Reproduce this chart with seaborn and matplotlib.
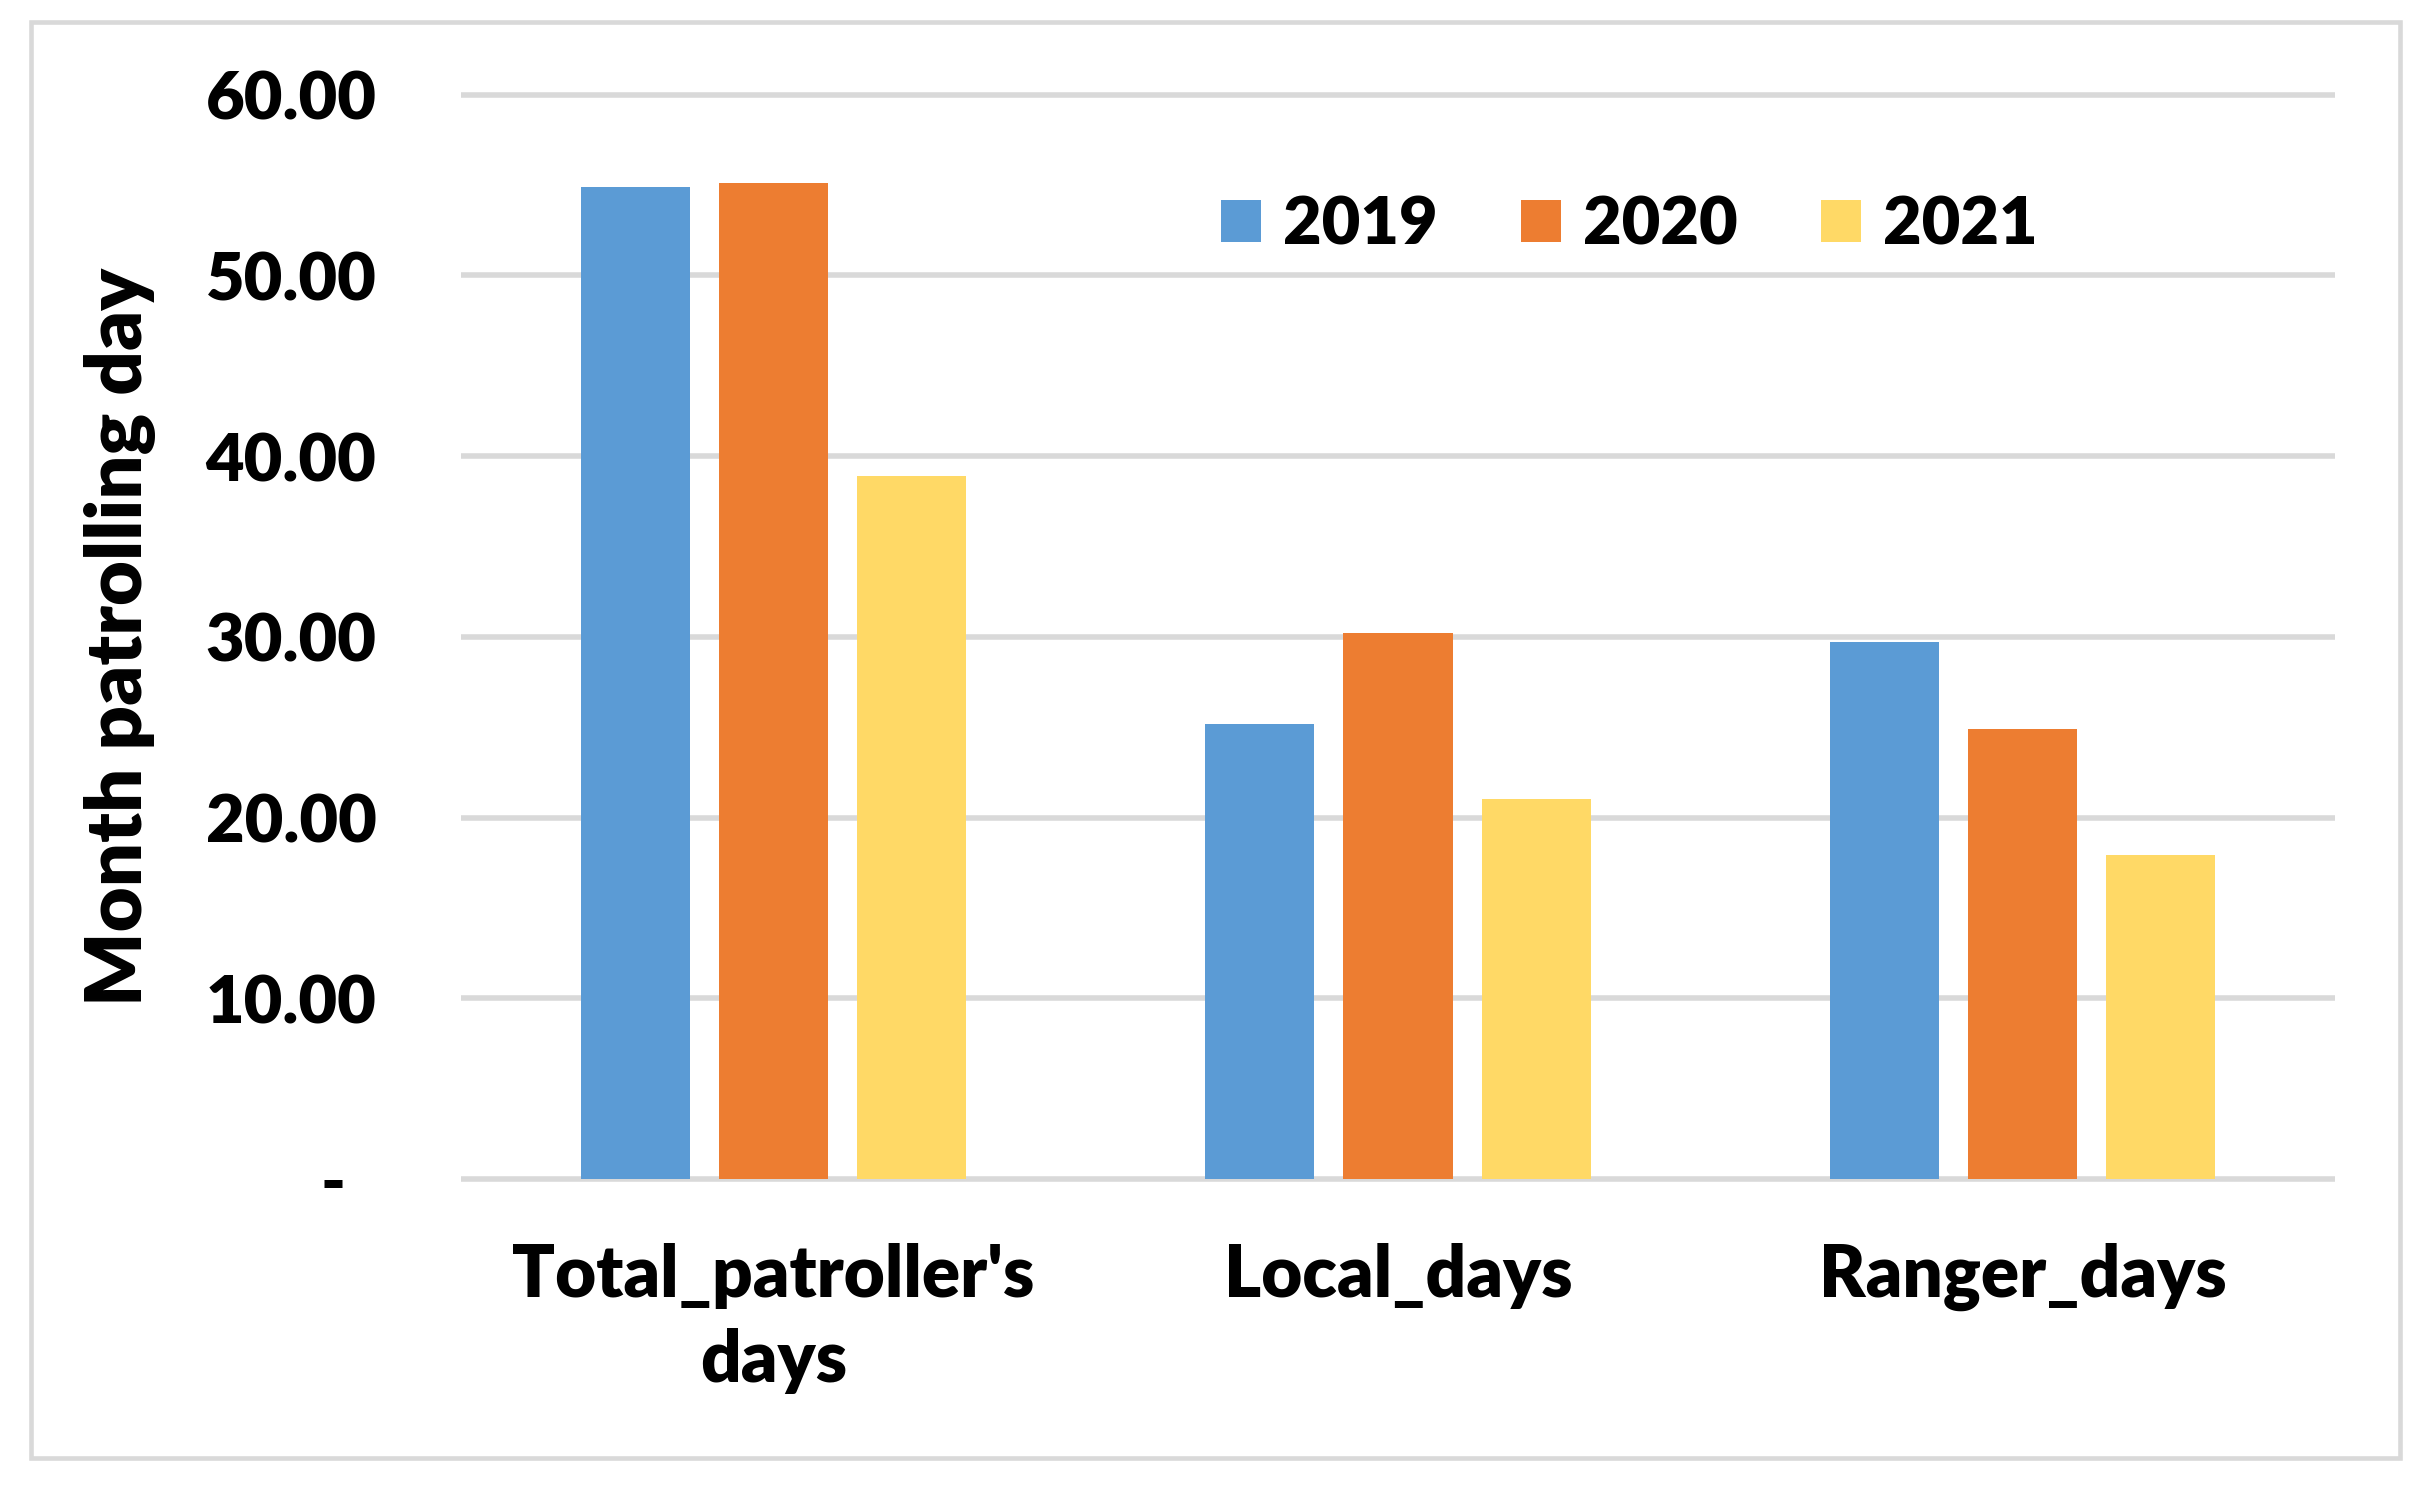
import pandas as pd
import matplotlib
matplotlib.use("Agg")
import matplotlib.pyplot as plt
import seaborn as sns
from matplotlib.patches import Rectangle

# Chart data
categories = ["Total_patroller's\ndays", "Local_days", "Ranger_days"]
years = ["2019", "2020", "2021"]
vals_2019 = [54.9, 25.2, 29.7]
vals_2020 = [55.1, 30.2, 24.9]
vals_2021 = [38.9, 21.0, 17.9]
colors = ["#5B9BD5", "#ED7D31", "#FFD966"]
y_ticks = [0, 10, 20, 30, 40, 50, 60]
y_tick_labels = ["-  ", "10.00", "20.00", "30.00", "40.00", "50.00", "60.00"]

# Long format for seaborn
df = pd.DataFrame({
    "category": categories * 3,
    "year": [y for y in years for _ in categories],
    "value": vals_2019 + vals_2020 + vals_2021,
})

sns.set_theme(style="white")
plt.rcParams["font.family"] = ["Lato", "DejaVu Sans"]
plt.rcParams["font.weight"] = "heavy"
plt.rcParams["text.color"] = "black"
plt.rcParams["axes.labelcolor"] = "black"
plt.rcParams["xtick.color"] = "black"
plt.rcParams["ytick.color"] = "black"

fig = plt.figure(figsize=(24.36, 14.92), dpi=100)
ax = fig.add_axes([0.1893, 0.2062, 0.9585 - 0.1893, 0.9401 - 0.2062])

sns.barplot(data=df, x="category", y="value", hue="year",
            order=categories, hue_order=years, palette=colors,
            saturation=1, errorbar=None, width=0.664, gap=0.21,
            linewidth=0, ax=ax)

ax.set_xlim(-0.5, 2.5)
ax.set_ylim(-0.3, 60.3)
ax.set_yticks(y_ticks)
ax.set_yticklabels(y_tick_labels)
ax.yaxis.grid(True, color="#D9D9D9", lw=4)
ax.set_axisbelow(True)
sns.despine(ax=ax, left=True, bottom=True)

ax.tick_params(axis="y", length=0, labelsize=48, pad=61, labelcolor="black")
ax.tick_params(axis="x", length=0, labelsize=51, pad=42, labelcolor="black")
for lab in ax.get_yticklabels() + ax.get_xticklabels():
    lab.set_fontweight("heavy")
for lab in ax.get_xticklabels():
    lab.set_linespacing(1.35)

ax.set_xlabel("")
ax.set_ylabel("Month patrolling day", fontsize=56, fontweight="heavy",
              color="black")
ax.yaxis.set_label_coords(-0.163, 0.5)

leg = ax.legend(loc="center", bbox_to_anchor=(0.6687, 0.849),
                bbox_transform=fig.transFigure, ncol=3, frameon=False,
                prop={"size": 48, "weight": "heavy"},
                handlelength=0.6, handleheight=0.6,
                handletextpad=0.33, columnspacing=1.25)
for t in leg.get_texts():
    t.set_color("black")

# light outer frame
fig.patches.append(Rectangle((20 / 1568, 1 - 938 / 960), (1545 - 20) / 1568,
                             (938 - 14) / 960, transform=fig.transFigure,
                             fill=False, edgecolor="#D9D9D9", lw=3.3))

fig.savefig("out.png", dpi=100)
